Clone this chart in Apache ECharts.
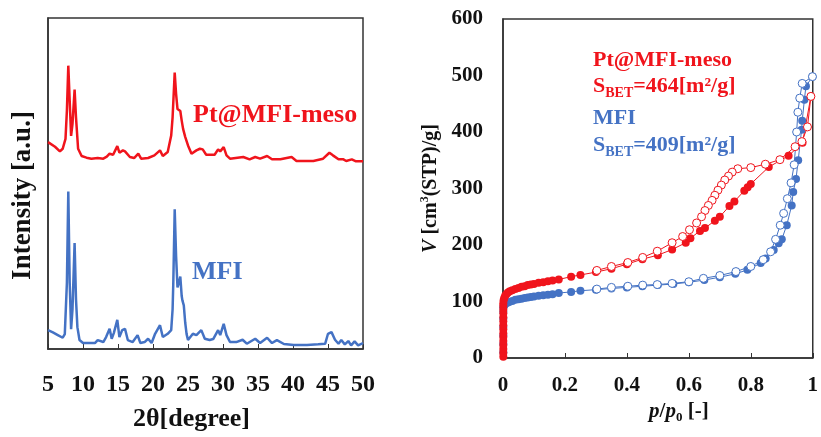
<!DOCTYPE html>
<html>
<head>
<meta charset="utf-8">
<script src="https://cdn.jsdelivr.net/npm/echarts@6/dist/echarts.min.js"></script>
<style>
  html, body { margin: 0; padding: 0; background: #fff; }
  #chart { width: 821px; height: 437px; }
</style>
</head>
<body>
<div id="chart"></div>
<script>
// XRD patterns (2θ in degree, intensity in a.u.)
const mesoAngle = [5, 6, 6.7, 7.1, 7.5, 7.7, 7.9, 8.1, 8.3, 8.5, 8.8, 9.0, 9.3, 9.8, 10.5, 11.2, 12.1, 12.9, 13.4, 13.8, 14.3, 14.9, 15.2, 15.7, 16, 16.7, 17.3, 17.9, 18.3, 19.3, 20.2, 21, 21.4, 22.1, 22.6, 22.8, 23.1, 23.3, 23.5, 23.7, 23.9, 24.1, 24.3, 24.6, 25, 25.5, 26.2, 26.7, 27.1, 27.6, 28.8, 29.3, 29.6, 30.1, 30.5, 31, 32.9, 33.8, 34.6, 35.3, 36.3, 37, 38.2, 39.8, 40.5, 42.9, 44.3, 45.2, 45.7, 46.5, 47.2, 47.6, 48.4, 49, 50]
const mesoIntensity = [62.5, 61.1, 59.7, 60.5, 63.5, 72, 85.6, 75, 64.4, 68, 78.4, 70, 60.5, 58.3, 57.8, 57.5, 57.7, 57.5, 58.1, 59.0, 58.7, 61.3, 59.3, 60.0, 59.7, 58.0, 57.7, 59.0, 57.5, 57.7, 58.5, 60.0, 58.3, 59.5, 64.5, 70, 83.5, 77, 72.5, 73, 71.9, 69, 66.5, 64.1, 61.5, 59.0, 60.0, 60.5, 60.3, 58.7, 58.7, 60.3, 59.7, 61.0, 58.5, 57.5, 58.0, 57.3, 58.0, 57.5, 58.3, 57.3, 57.3, 58.0, 56.8, 56.8, 57.5, 59.3, 58.5, 57.3, 57.3, 56.8, 57.3, 56.7, 56.7]

const mfiAngle = [5, 5.7, 6.4, 7.1, 7.4, 7.7, 7.9, 8.1, 8.3, 8.5, 8.8, 9.0, 9.2, 9.5, 10, 11, 11.7, 12.1, 12.9, 13.3, 13.8, 14.1, 14.4, 14.9, 15.2, 15.6, 16, 16.4, 17.1, 17.8, 18.2, 18.8, 19.3, 19.8, 20.3, 21, 21.4, 22.1, 22.6, 22.8, 22.9, 23.1, 23.3, 23.5, 23.7, 23.9, 24.1, 24.2, 24.4, 24.6, 24.8, 25, 25.7, 26.2, 26.9, 27.4, 28.1, 28.6, 29.3, 29.6, 30.1, 30.5, 31, 31.9, 32.8, 33.4, 34.6, 35.3, 36.3, 37, 37.7, 38.7, 40.1, 42, 43.6, 44.6, 45.0, 45.5, 46, 46.5, 46.9, 47.4, 47.9, 48.3, 48.8, 49.3, 50]
const mfiIntensity = [5.7, 5.0, 4.2, 3.4, 4.5, 20, 47.6, 20, 6.0, 12, 32.0, 15, 6.6, 2.7, 1.8, 1.8, 1.8, 2.7, 2.1, 3.6, 6.1, 3.1, 4.8, 8.8, 3.6, 5.7, 6.1, 2.7, 2.1, 4.2, 1.8, 2.1, 3.1, 1.8, 4.6, 7.2, 3.6, 4.6, 5.7, 12, 20, 42.2, 28, 18.6, 20, 21.9, 16, 14.7, 13.2, 8, 4.5, 2.7, 4.6, 4.2, 5.7, 3.1, 2.7, 3.0, 5.7, 4.2, 7.6, 4.2, 2.1, 2.1, 2.8, 1.6, 3.1, 1.8, 3.4, 1.8, 2.7, 1.5, 1.2, 1.2, 1.4, 1.6, 4.6, 5.1, 2.8, 1.6, 2.7, 1.4, 2.4, 1.1, 2.3, 1.1, 1.8]

// N2 isotherms (p/p0 [-], V [cm3(STP)/g])
const mesoAdsP = [0.001, 0.001, 0.001, 0.001, 0.001, 0.001, 0.001, 0.001, 0.001, 0.001, 0.001, 0.001, 0.001, 0.001, 0.001, 0.002, 0.004, 0.007, 0.011, 0.016, 0.022, 0.03, 0.04, 0.05, 0.06, 0.07, 0.08, 0.09, 0.1, 0.115, 0.13, 0.145, 0.16, 0.18, 0.22, 0.25, 0.3, 0.35, 0.4, 0.45, 0.5, 0.546, 0.59, 0.605, 0.636, 0.652, 0.684, 0.7, 0.731, 0.747, 0.779, 0.79, 0.8, 0.858, 0.922, 0.967, 0.994]
const mesoAdsV = [2, 9, 16, 23, 30, 37, 44, 51, 58, 65, 72, 79, 86, 92, 97, 102, 106, 110, 113, 116, 118, 120, 122, 124, 126, 127, 129, 130, 131, 133, 134, 136, 137, 139, 144, 147, 152, 158, 166, 175, 182, 192, 204, 212, 225, 230, 243, 250, 269, 277, 296, 302, 308, 338, 358, 381, 463]
const mesoDesP = [0.994, 0.983, 0.965, 0.943, 0.894, 0.847, 0.8, 0.758, 0.74, 0.728, 0.716, 0.705, 0.694, 0.684, 0.675, 0.663, 0.652, 0.641, 0.625, 0.602, 0.58, 0.546, 0.498, 0.451, 0.403, 0.35, 0.303]
const mesoDesV = [463, 409, 383, 374, 351, 343, 337, 335, 329, 322, 315, 306, 297, 288, 279, 270, 261, 250, 239, 227, 215, 204, 189, 178, 169, 162, 155]

const mfiAdsP = [0.001, 0.001, 0.001, 0.001, 0.001, 0.001, 0.001, 0.004, 0.008, 0.014, 0.02, 0.03, 0.04, 0.05, 0.06, 0.07, 0.08, 0.09, 0.1, 0.115, 0.13, 0.145, 0.16, 0.18, 0.22, 0.25, 0.3, 0.35, 0.4, 0.45, 0.5, 0.55, 0.6, 0.65, 0.7, 0.75, 0.789, 0.832, 0.848, 0.874, 0.89, 0.9, 0.916, 0.932, 0.937, 0.946, 0.953, 0.964, 0.966, 0.973, 0.978, 0.999]
const mfiAdsV = [10, 25, 40, 55, 70, 82, 90, 93, 96, 98, 99, 101, 103, 104, 105, 106, 107, 108, 109, 110, 111, 112, 113, 115, 117, 119, 121, 123, 125, 127, 129, 131, 134, 138, 143, 149, 156, 168, 176, 191, 203, 210, 235, 270, 294, 317, 350, 404, 420, 457, 481, 498]
const mfiDesP = [0.999, 0.966, 0.958, 0.952, 0.948, 0.94, 0.93, 0.918, 0.906, 0.895, 0.88, 0.864, 0.84, 0.8, 0.752, 0.7, 0.647, 0.6, 0.546, 0.498, 0.451, 0.403, 0.35, 0.303]
const mfiDesV = [498, 486, 460, 435, 400, 342, 310, 282, 256, 235, 210, 188, 174, 162, 153, 146, 141, 135, 132, 130, 129, 127, 125, 122]

const RED = '#f0141c'
const BLUE = '#4472c4'
const FONT = '"Liberation Serif", "Times New Roman", serif'

function zip(a, b) {
  return a.map((v, i) => [v, b[i]])
}

const chart = echarts.init(document.getElementById('chart'), null, { renderer: 'canvas' })

const frameColor = '#333'

function isoSeries(p, v, color, open) {
  return {
    type: 'line',
    xAxisIndex: 1,
    yAxisIndex: 1,
    data: zip(p, v),
    symbol: 'circle',
    symbolSize: 8,
    showAllSymbol: true,
    lineStyle: { color: color, width: 1 },
    itemStyle: open
      ? { color: '#fff', borderColor: color, borderWidth: 1 }
      : { color: color, borderWidth: 0 },
    animation: false
  }
}

const option = {
  animation: false,
  backgroundColor: '#fff',
  grid: [
    { left: 48, top: 18, width: 315, height: 334, show: true, borderColor: frameColor, borderWidth: 1.5 },
    { left: 503, top: 19, width: 315, height: 339, show: true, borderColor: frameColor, borderWidth: 1.5 }
  ],
  xAxis: [
    {
      gridIndex: 0,
      type: 'value',
      min: 5,
      max: 50,
      interval: 5,
      name: '2θ[degree]',
      nameLocation: 'middle',
      nameGap: 57,
      nameTextStyle: { fontFamily: FONT, fontWeight: 'bold', fontSize: 26, color: '#111', padding: [0, 28, 0, 0] },
      axisLine: { lineStyle: { color: frameColor, width: 1.5 } },
      axisTick: { inside: true, length: 5, lineStyle: { color: frameColor } },
      axisLabel: { fontFamily: FONT, fontWeight: 'bold', fontSize: 24, color: '#111', margin: 24 },
      splitLine: { show: false }
    },
    {
      gridIndex: 1,
      type: 'value',
      min: 0,
      max: 1,
      interval: 0.2,
      name: '{i|p}{n|/}{i|p}{s|0}{n| [-]}',
      nameLocation: 'middle',
      nameGap: 34,
      nameTextStyle: {
        fontFamily: FONT, fontWeight: 'bold', fontSize: 21, color: '#111', padding: [0, 0, 0, 42],
        rich: {
          i: { fontFamily: FONT, fontWeight: 'bold', fontStyle: 'italic', fontSize: 21, color: '#111', lineHeight: 26, verticalAlign: 'middle' },
          n: { fontFamily: FONT, fontWeight: 'bold', fontSize: 21, color: '#111', lineHeight: 26, verticalAlign: 'middle' },
          s: { fontFamily: FONT, fontWeight: 'bold', fontSize: 13, color: '#111', lineHeight: 26, verticalAlign: 'bottom' }
        }
      },
      axisLine: { lineStyle: { color: frameColor, width: 1.5 } },
      axisTick: { inside: true, length: 5, lineStyle: { color: frameColor } },
      axisLabel: { fontFamily: FONT, fontWeight: 'bold', fontSize: 21, color: '#111', margin: 17 },
      splitLine: { show: false }
    }
  ],
  yAxis: [
    {
      gridIndex: 0,
      type: 'value',
      min: 0,
      max: 100,
      name: 'Intensity [a.u.]',
      nameLocation: 'middle',
      nameGap: 11,
      nameRotate: 90,
      nameTextStyle: { fontFamily: FONT, fontWeight: 'bold', fontSize: 27, color: '#111', padding: [0, 24, 0, 0] },
      axisLine: { show: true, lineStyle: { color: frameColor, width: 1.5 } },
      axisTick: { show: false },
      axisLabel: { show: false },
      splitLine: { show: false }
    },
    {
      gridIndex: 1,
      type: 'value',
      min: 0,
      max: 600,
      interval: 100,
      name: '{i|V}{n| [cm}{u|3}{n|(STP)/g]}',
      nameLocation: 'middle',
      nameGap: 60,
      nameRotate: 90,
      nameTextStyle: {
        fontFamily: FONT, fontWeight: 'bold', fontSize: 20, color: '#111',
        rich: {
          i: { fontFamily: FONT, fontWeight: 'bold', fontStyle: 'italic', fontSize: 20, color: '#111', lineHeight: 24, verticalAlign: 'middle' },
          n: { fontFamily: FONT, fontWeight: 'bold', fontSize: 20, color: '#111', lineHeight: 24, verticalAlign: 'middle' },
          u: { fontFamily: FONT, fontWeight: 'bold', fontSize: 12, color: '#111', lineHeight: 24, verticalAlign: 'top' }
        }
      },
      axisLine: { show: true, lineStyle: { color: frameColor, width: 1.5 } },
      axisTick: { show: false },
      axisLabel: { fontFamily: FONT, fontWeight: 'bold', fontSize: 21, color: '#111', margin: 20 },
      splitLine: { show: false }
    }
  ],
  series: [
    {
      type: 'line',
      xAxisIndex: 0,
      yAxisIndex: 0,
      data: zip(mesoAngle, mesoIntensity),
      showSymbol: false,
      lineStyle: { color: RED, width: 2.5 }
    },
    {
      type: 'line',
      xAxisIndex: 0,
      yAxisIndex: 0,
      data: zip(mfiAngle, mfiIntensity),
      showSymbol: false,
      lineStyle: { color: BLUE, width: 2.5 }
    },
    isoSeries(mfiAdsP, mfiAdsV, BLUE, false),
    isoSeries(mfiDesP, mfiDesV, BLUE, true),
    isoSeries(mesoAdsP, mesoAdsV, RED, false),
    isoSeries(mesoDesP, mesoDesV, RED, true)
  ],
  graphic: [
    { type: 'text', x: 193, y: 115, style: { text: 'Pt@MFI-meso', fill: RED, font: 'bold 26px ' + FONT, verticalAlign: 'middle' } },
    { type: 'text', x: 192, y: 272, style: { text: 'MFI', fill: BLUE, font: 'bold 26px ' + FONT, verticalAlign: 'middle' } },
    { type: 'text', x: 593, y: 60, style: { text: 'Pt@MFI-meso', fill: RED, font: 'bold 22px ' + FONT, verticalAlign: 'middle' } },
    {
      type: 'text', x: 593, y: 86,
      style: {
        text: '{a|S}{b|BET}{a|=464[m²/g]}', verticalAlign: 'middle', fill: RED,
        rich: {
          a: { fill: RED, font: 'bold 22px ' + FONT, lineHeight: 28, verticalAlign: 'middle' },
          b: { fill: RED, font: 'bold 14px ' + FONT, lineHeight: 28, verticalAlign: 'bottom' }
        }
      }
    },
    { type: 'text', x: 593, y: 118, style: { text: 'MFI', fill: BLUE, font: 'bold 22px ' + FONT, verticalAlign: 'middle' } },
    {
      type: 'text', x: 593, y: 145,
      style: {
        text: '{a|S}{b|BET}{a|=409[m²/g]}', verticalAlign: 'middle', fill: BLUE,
        rich: {
          a: { fill: BLUE, font: 'bold 22px ' + FONT, lineHeight: 28, verticalAlign: 'middle' },
          b: { fill: BLUE, font: 'bold 14px ' + FONT, lineHeight: 28, verticalAlign: 'bottom' }
        }
      }
    }
  ]
}

chart.setOption(option)
</script>
</body>
</html>
